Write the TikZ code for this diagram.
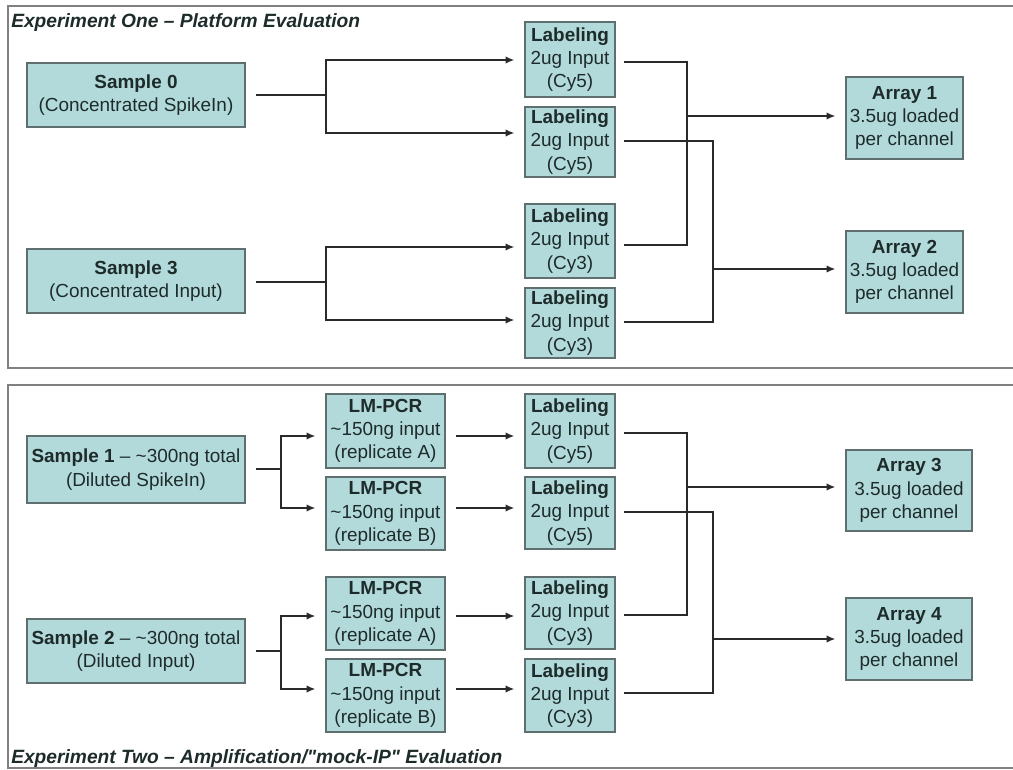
\documentclass[tikz,border=0pt]{standalone}
\usepackage{fontspec}
\setmainfont{Liberation Sans}[Ligatures=TeXOff]
\usetikzlibrary{arrows.meta,calc}
\definecolor{boxfill}{HTML}{B3DADB}
\definecolor{boxline}{HTML}{5F6F70}
\definecolor{txt}{HTML}{1E2B2B}
\definecolor{framec}{HTML}{808080}
\definecolor{wirec}{HTML}{2A2A2A}
\begin{document}
\begin{tikzpicture}[x=0.75pt,y=-0.75pt,
  box/.style={draw=boxline,fill=boxfill,line width=1.2pt,inner sep=0pt,align=center,
    text=txt,font=\fontsize{14.2}{17.5}\selectfont},
  smp/.style={box,minimum width=163.5pt},
  lab/.style={box,minimum width=67.5pt},
  lmp/.style={box,minimum width=89.25pt},
  arrbox/.style={box},
  wire/.style={draw=wirec,line width=0.9pt},
  arr/.style={wire,-{Latex[length=6.5pt,width=5.5pt]},shorten >=7.5pt},
  frame/.style={draw=framec,line width=1.6pt},
  ttl/.style={anchor=base west,inner sep=0pt,text=txt,font=\fontsize{14.4}{17}\selectfont\bfseries\itshape}]
\useasboundingbox (0,0) rectangle (1013,770);
\fill[white] (0,0) rectangle (1013,770);

% frames
\draw[frame] (1020,6) -- (8,6) -- (8,368) -- (1020,368);
\draw[frame] (1020,385) -- (8,385) -- (8,768) -- (1020,768);
\node[ttl] (t1) at (11,28) {Experiment One – Platform Evaluation};
\node[ttl] (t2) at (11,763) {Experiment Two – Amplification/"mock-IP" Evaluation};

% ---------- Experiment one ----------
\node[smp,minimum height=48pt] (s0) at (136,95) {\textbf{Sample 0}\\(Concentrated SpikeIn)};
\node[smp,minimum height=48pt] (s3) at (136,281) {\textbf{Sample 3}\\(Concentrated Input)};

\node[lab,minimum height=56.25pt] (l1) at (570,59.5) {\textbf{Labeling}\\2ug Input\\(Cy5)};
\node[lab,minimum height=52.5pt] (l2) at (570,142) {\textbf{Labeling}\\2ug Input\\(Cy5)};
\node[lab,minimum height=55.5pt] (l3) at (570,241) {\textbf{Labeling}\\2ug Input\\(Cy3)};
\node[lab,minimum height=52.5pt] (l4) at (570,323) {\textbf{Labeling}\\2ug Input\\(Cy3)};

\node[arrbox,minimum width=87.75pt,minimum height=61.5pt] (a1) at (904.5,118) {\textbf{Array 1}\\3.5ug loaded\\per channel};
\node[arrbox,minimum width=87.75pt,minimum height=61.5pt] (a2) at (904.5,272) {\textbf{Array 2}\\3.5ug loaded\\per channel};

\coordinate (f0) at (326,95);
\coordinate (f3) at (326,282);
\draw[wire,shorten <=7.5pt] (s0.east) -- (f0);
\draw[arr] (f0) |- (l1.west |- 0,60);
\draw[arr] (f0) |- (l2.west |- 0,133);
\draw[wire,shorten <=7.5pt] (s3.east |- f3) -- (f3);
\draw[arr] (f3) |- (l3.west |- 0,247);
\draw[arr] (f3) |- (l4.west |- 0,320);

\coordinate (m1) at (687,116);
\coordinate (m2) at (713,269);
\draw[wire,shorten <=6pt] (l1.east |- 0,62) -| (m1);
\draw[wire,shorten <=6pt] (l3.east |- 0,245) -| (m1);
\draw[arr] (m1) -- (a1.west |- m1);
\draw[wire,shorten <=6pt] (l2.east |- 0,141) -| (m2);
\draw[wire,shorten <=6pt] (l4.east |- 0,322) -| (m2);
\draw[arr] (m2) -- (a2.west |- m2);

% ---------- Experiment two ----------
\node[smp,minimum height=50.25pt] (s1) at (136,469.5) {\textbf{Sample 1} – \textasciitilde300ng total\\(Diluted SpikeIn)};
\node[smp,minimum height=48pt] (s2) at (136,651) {\textbf{Sample 2} – \textasciitilde300ng total\\(Diluted Input)};

\node[lmp,minimum height=55.5pt] (p1) at (385.5,431) {\textbf{LM-PCR}\\\textasciitilde150ng input\\(replicate A)};
\node[lmp,minimum height=54.75pt] (p2) at (385.5,513.5) {\textbf{LM-PCR}\\\textasciitilde150ng input\\(replicate B)};
\node[lmp,minimum height=54.75pt] (p3) at (385.5,613.5) {\textbf{LM-PCR}\\\textasciitilde150ng input\\(replicate A)};
\node[lmp,minimum height=54.75pt] (p4) at (385.5,695.5) {\textbf{LM-PCR}\\\textasciitilde150ng input\\(replicate B)};

\node[lab,minimum height=55.5pt] (l5) at (570,431) {\textbf{Labeling}\\2ug Input\\(Cy5)};
\node[lab,minimum height=54pt] (l6) at (570,513) {\textbf{Labeling}\\2ug Input\\(Cy5)};
\node[lab,minimum height=54pt] (l7) at (570,613) {\textbf{Labeling}\\2ug Input\\(Cy3)};
\node[lab,minimum height=54.75pt] (l8) at (570,695.5) {\textbf{Labeling}\\2ug Input\\(Cy3)};

\node[arrbox,minimum width=94.5pt,minimum height=60.75pt] (a3) at (909,490.5) {\textbf{Array 3}\\3.5ug loaded\\per channel};
\node[arrbox,minimum width=94.5pt,minimum height=61.5pt] (a4) at (909,639) {\textbf{Array 4}\\3.5ug loaded\\per channel};

\coordinate (f1) at (281,469);
\coordinate (f2) at (281,651);
\draw[wire,shorten <=7.5pt] (s1.east |- f1) -- (f1);
\draw[arr] (f1) |- (p1.west |- 0,436);
\draw[arr] (f1) |- (p2.west |- 0,508);
\draw[wire,shorten <=7.5pt] (s2.east |- f2) -- (f2);
\draw[arr] (f2) |- (p3.west |- 0,616);
\draw[arr] (f2) |- (p4.west |- 0,689);

\draw[arr,shorten <=7.5pt] (p1.east |- 0,436) -- (l5.west |- 0,436);
\draw[arr,shorten <=7.5pt] (p2.east |- 0,508) -- (l6.west |- 0,508);
\draw[arr,shorten <=7.5pt] (p3.east |- 0,616) -- (l7.west |- 0,616);
\draw[arr,shorten <=7.5pt] (p4.east |- 0,689) -- (l8.west |- 0,689);

\coordinate (m3) at (687,487);
\coordinate (m4) at (713,639);
\draw[wire,shorten <=6pt] (l5.east |- 0,433) -| (m3);
\draw[wire,shorten <=6pt] (l7.east |- 0,615) -| (m3);
\draw[arr] (m3) -- (a3.west |- m3);
\draw[wire,shorten <=6pt] (l6.east |- 0,512) -| (m4);
\draw[wire,shorten <=6pt] (l8.east |- 0,693) -| (m4);
\draw[arr] (m4) -- (a4.west |- m4);
\end{tikzpicture}
\end{document}
